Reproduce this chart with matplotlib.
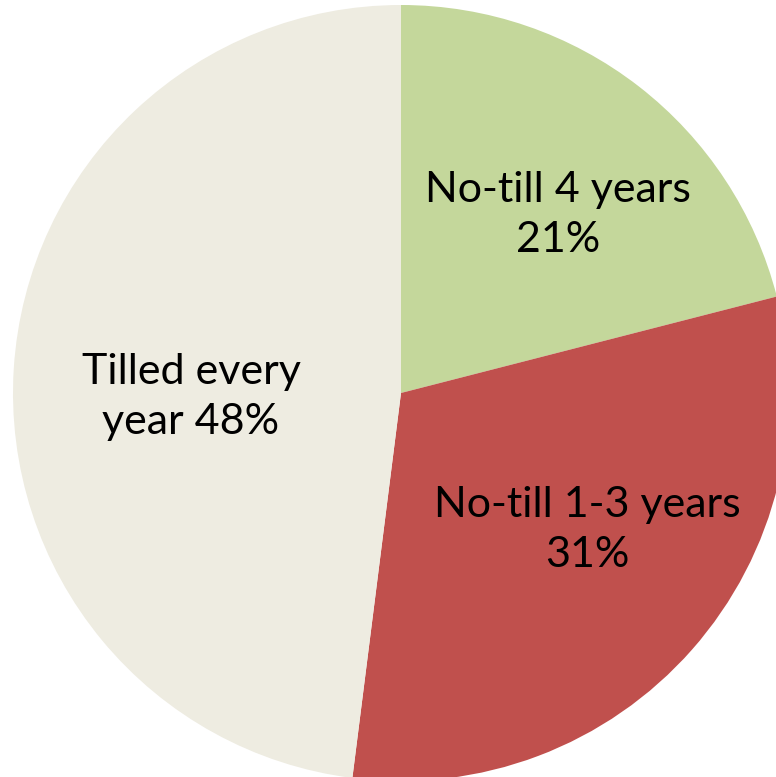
import matplotlib
matplotlib.use("Agg")
import matplotlib.pyplot as plt

# Share of fields by tillage history
categories = ["No-till 4 years", "No-till 1-3 years", "Tilled every year"]
shares = [21, 31, 48]
label_texts = ["No-till 4 years\n21%", "No-till 1-3 years\n31%", "Tilled every\nyear 48%"]
colors = ["#C4D79B", "#C0504D", "#EEECE1"]

W, H = 776, 777
fig = plt.figure(figsize=(W / 100, H / 100), dpi=100)
ax = fig.add_axes([0, 0, 1, 1])

cx, cy, r = 401, 393, 388
# y axis runs downward, so start at -90 to begin at the top and sweep clockwise
wedges, _ = ax.pie(shares, colors=colors, startangle=-90, counterclock=True,
                   center=(cx, cy), radius=r, frame=True,
                   wedgeprops=dict(linewidth=0))
ax.set_xlim(0, W)
ax.set_ylim(H, 0)
ax.set_aspect("equal")
ax.axis("off")

# label anchor points (pixel space)
label_pos = [(558, 215), (587, 530), (191, 397)]
for txt, (x, y) in zip(label_texts, label_pos):
    ax.text(x, y, txt, ha="center", va="center", fontsize=31,
            family="Lato", color="black", linespacing=1.4)

fig.savefig("out.png", dpi=100)
